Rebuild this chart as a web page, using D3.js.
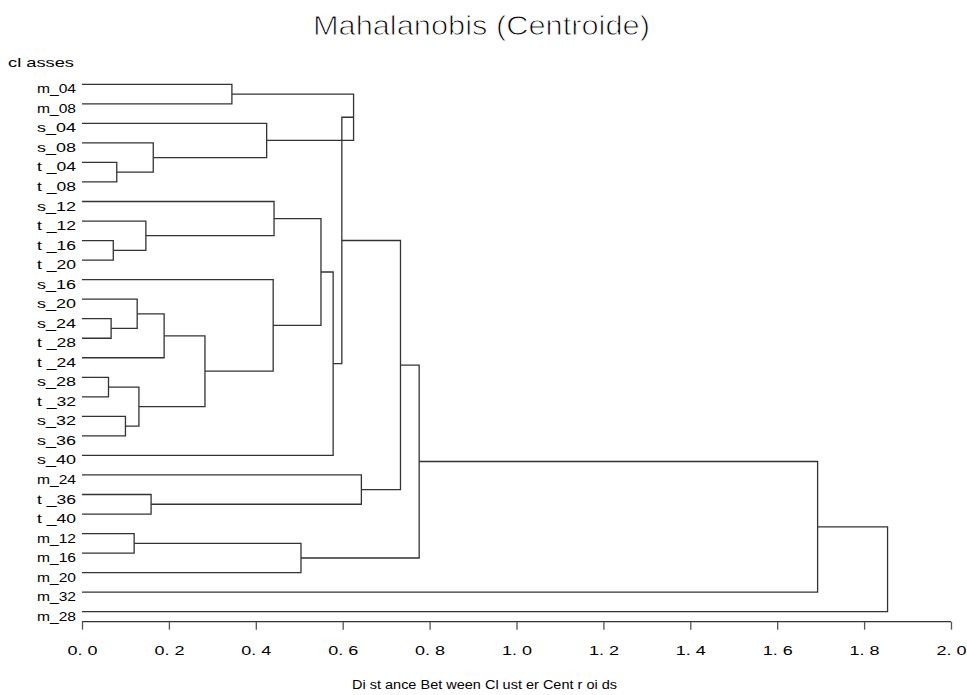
<!DOCTYPE html>
<html>
<head>
<meta charset="utf-8">
<script src="https://cdn.jsdelivr.net/npm/d3@7"></script>
<style>
  html, body { margin: 0; padding: 0; background: #fff; }
  svg { display: block; }
  text { font-family: "Liberation Sans", Arial, sans-serif; fill: #000; }
</style>
</head>
<body>
<svg id="chart" width="967" height="695"></svg>
<script>
// Leaf order, top to bottom
const leaves = ["m_04", "m_08", "s_04", "s_08", "t_04", "t_08", "s_12", "t_12", "t_16", "t_20",
  "s_16", "s_20", "s_24", "t_28", "t_24", "s_28", "t_32", "s_32", "s_36", "s_40",
  "m_24", "t_36", "t_40", "m_12", "m_16", "m_20", "m_32", "m_28"];

// Cluster joins: [node, first child, second child, distance between centroids]
const merges = [
  ["A", "m_04", "m_08", 0.345],
  ["B", "t_04", "t_08", 0.080],
  ["C", "s_08", "B", 0.164],
  ["D", "s_04", "C", 0.425],
  ["E", "A", "D", 0.625],
  ["F", "t_16", "t_20", 0.072],
  ["G", "t_12", "F", 0.147],
  ["H", "s_12", "G", 0.442],
  ["I", "s_24", "t_28", 0.067],
  ["J", "s_20", "I", 0.127],
  ["K", "J", "t_24", 0.189],
  ["L", "s_28", "t_32", 0.061],
  ["M", "s_32", "s_36", 0.100],
  ["N", "L", "M", 0.131],
  ["O", "K", "N", 0.283],
  ["P", "s_16", "O", 0.440],
  ["Q", "H", "P", 0.550],
  ["R", "Q", "s_40", 0.578],
  ["S", "E", "R", 0.598],
  ["T", "t_36", "t_40", 0.159],
  ["U", "m_24", "T", 0.643],
  ["V", "S", "U", 0.733],
  ["W", "m_12", "m_16", 0.120],
  ["X", "W", "m_20", 0.504],
  ["Y", "V", "X", 0.776],
  ["Z", "Y", "m_32", 1.693],
  ["ROOT", "Z", "m_28", 1.854]
];

const tickValues = [0, 0.2, 0.4, 0.6, 0.8, 1.0, 1.2, 1.4, 1.6, 1.8, 2.0];

const titleText = "Mahalanobis (Centroide)";
const yAxisTitle = "cl asses";
const xAxisTitle = "Di st ance Bet ween Cl ust er Cent r oi ds";

const svg = d3.select("#chart");
const x = d3.scaleLinear().domain([0, 2]).range([82, 951]);
const y = d3.scalePoint().domain(leaves).range([84.3, 611.7]);

// Position of every node: leaves sit at distance 0, joins at the midpoint of their children
const pos = new Map();
leaves.forEach(l => pos.set(l, { x: x(0), y: y(l) }));
merges.forEach(([id, a, b, h]) => {
  pos.set(id, { x: x(h), y: (pos.get(a).y + pos.get(b).y) / 2 });
});

// Each join: horizontal from the first child, vertical bar, horizontal back to the second child
svg.append("g")
  .attr("fill", "none")
  .attr("stroke", "#333")
  .attr("stroke-width", 1.3)
  .selectAll("path")
  .data(merges)
  .join("path")
  .attr("d", ([id, a, b]) => {
    const p = pos.get(id), pa = pos.get(a), pb = pos.get(b);
    return `M${pa.x},${pa.y}H${p.x}V${pb.y}H${pb.x}`;
  });

// Leaf labels
svg.append("g").selectAll("text")
  .data(leaves)
  .join("text")
  .attr("x", 76)
  .attr("y", d => y(d) + 9)
  .attr("text-anchor", "end")
  .attr("font-size", 13)
  .attr("textLength", 39)
  .attr("lengthAdjust", "spacingAndGlyphs")
  .text(d => d.replace("t_", "t _"));

svg.append("text")
  .attr("x", 8)
  .attr("y", 66.5)
  .attr("font-size", 13)
  .attr("textLength", 66)
  .attr("lengthAdjust", "spacingAndGlyphs")
  .text(yAxisTitle);

// Distance axis
const axis = d3.axisBottom(x)
  .tickValues(tickValues)
  .tickSize(8)
  .tickPadding(0)
  .tickFormat(d => d3.format(".1f")(d).replace(".", ". "));

const ax = svg.append("g")
  .attr("transform", "translate(0,621.7)")
  .call(axis);
ax.select(".domain").attr("stroke", "#333").attr("stroke-width", 1.3).attr("d", `M${x(0)},0H${x(2)}`);
ax.selectAll(".tick line").attr("stroke", "#555").attr("stroke-width", 1.3);
ax.selectAll(".tick text")
  .attr("y", 33.5)
  .attr("dy", null)
  .attr("font-size", 13)
  .attr("font-family", "Liberation Sans, Arial, sans-serif")
  .attr("fill", "#000")
  .attr("textLength", 30)
  .attr("lengthAdjust", "spacingAndGlyphs");

svg.append("text")
  .attr("x", 484.5)
  .attr("y", 689)
  .attr("text-anchor", "middle")
  .attr("font-size", 12.5)
  .attr("textLength", 265)
  .attr("lengthAdjust", "spacingAndGlyphs")
  .text(xAxisTitle);

// Title in a light stroke: a thin white outline trims the glyphs
svg.append("text")
  .attr("x", 481.4)
  .attr("y", 35)
  .attr("text-anchor", "middle")
  .attr("font-size", 27.5)
  .attr("stroke", "#fff")
  .attr("stroke-width", 0.9)
  .attr("textLength", 337)
  .attr("lengthAdjust", "spacingAndGlyphs")
  .text(titleText);
</script>
</body>
</html>
